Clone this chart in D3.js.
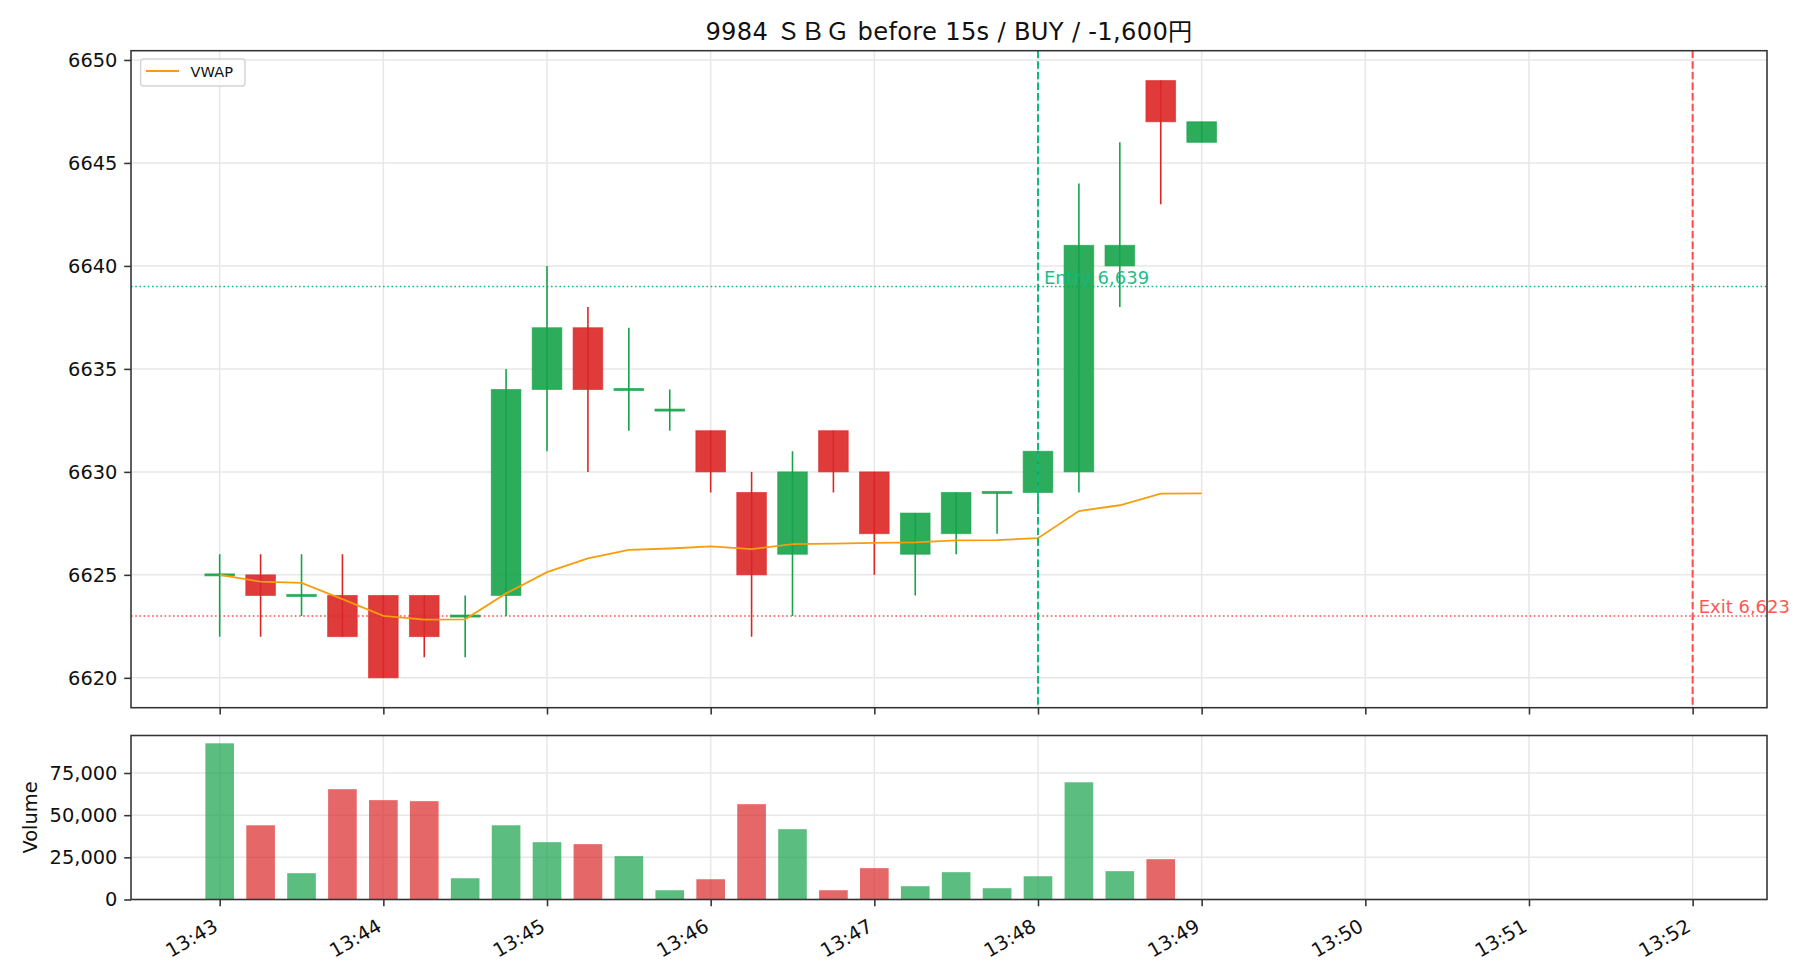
<!DOCTYPE html>
<html>
<head>
<meta charset="utf-8">
<script src="https://cdn.jsdelivr.net/npm/d3@7"></script>
<style>
  html, body { margin: 0; padding: 0; background: #fff; }
  svg { display: block; }
  text { font-family: "DejaVu Sans", "Noto Sans CJK JP", sans-serif; }
</style>
</head>
<body>
<svg id="chart" width="1820" height="980"></svg>
<script>
// ---------------- data ----------------
const title = "9984 ＳＢＧ before 15s / BUY / -1,600円";
const times = ["13:43:00","13:43:15","13:43:30","13:43:45","13:44:00","13:44:15","13:44:30","13:44:45",
               "13:45:00","13:45:15","13:45:30","13:45:45","13:46:00","13:46:15","13:46:30","13:46:45",
               "13:47:00","13:47:15","13:47:30","13:47:45","13:48:00","13:48:15","13:48:30","13:48:45","13:49:00"];
const opens  = [6625,6625,6624,6624,6624,6624,6623,6624,6634,6637,6634,6633,6632,6629,6626,6632,6630,6626,6627,6629,6629,6630,6640,6649,6646];
const highs  = [6626,6626,6626,6626,6624,6624,6624,6635,6640,6638,6637,6634,6632,6630,6631,6632,6630,6628,6629,6629,6631,6644,6646,6649,6647];
const lows   = [6622,6622,6623,6622,6620,6621,6621,6623,6631,6630,6632,6632,6629,6622,6623,6629,6625,6624,6626,6627,6628,6629,6638,6643,6646];
const closes = [6625,6624,6624,6622,6620,6622,6623,6634,6637,6634,6634,6633,6630,6625,6630,6630,6627,6628,6629,6629,6631,6641,6641,6647,6647];
const volumes = [92600,44000,15600,65400,58900,58300,12600,44000,34000,32800,25700,5500,12000,56500,41700,5500,
                 18600,7900,16200,6700,13800,69500,16800,23900,0];
const vwap = [6625.0,6624.67,6624.61,6623.82,6623.01,6622.83,6622.84,6624.1,6625.13,6625.8,6626.21,6626.28,6626.38,
              6626.25,6626.49,6626.52,6626.55,6626.58,6626.67,6626.69,6626.78,6628.1,6628.38,6628.94,6628.96];
const entryTime = "13:48:00", entryPrice = 6639, entryLabel = "Entry 6,639";
const exitTime  = "13:52:00", exitPrice  = 6623, exitLabel  = "Exit 6,623";
const priceTicks = [6620,6625,6630,6635,6640,6645,6650];
const volumeTicks = [0,25000,50000,75000];
const legendLabel = "VWAP";
const volumeLabel = "Volume";

// ---------------- setup ----------------
const parse = s => new Date("2024-01-01T" + s + "Z");
const T = times.map(parse);
const candles = T.map((t,i)=>({t, o:opens[i], h:highs[i], l:lows[i], c:closes[i], v:volumes[i], w:vwap[i]}));

const W = 1820, H = 980;
const L = 131, R = 1767;
const mainTop = 50.7, mainBot = 707.7;
const volTop = 735.5, volBot = 899.5;

const GREEN = "#16a34a", RED = "#dc2626", ORANGE = "#f59e0b";
const ENTRY = "#10b981", EXIT = "#ff4b4b";
const stepMs = 15000, barFrac = 0.7;

const svg = d3.select("#chart");
svg.append("rect").attr("width", W).attr("height", H).attr("fill", "#fff");

// x domain: data extent (incl. bar half-width and exit line) + 5% padding
const xLo = +T[0] - stepMs*barFrac/2, xHi = +parse(exitTime);
const padX = (xHi - xLo) * 0.05;
const x = d3.scaleUtc().domain([new Date(xLo - padX), new Date(xHi + padX)]).range([L, R]);

const pLo = d3.min(lows), pHi = d3.max(highs), padP = (pHi - pLo) * 0.05;
const y = d3.scaleLinear().domain([pLo - padP, pHi + padP]).range([mainBot, mainTop]);
const yv = d3.scaleLinear().domain([0, d3.max(volumes) * 1.05]).range([volBot, volTop]);

const minuteTicks = x.ticks(d3.utcMinute.every(1));
const bw = x(new Date(+T[0] + stepMs*barFrac)) - x(T[0]);
const cbw = bw + 1;

const GRID = "#e7e7e7", SPINE = "#333", TICKLEN = 6.8, TICKPAD = 6.8, FS = 19.4;

// ---------------- main panel ----------------
const gMain = svg.append("g");
gMain.append("g").selectAll("line").data(minuteTicks).join("line")
  .attr("x1", d=>x(d)).attr("x2", d=>x(d)).attr("y1", mainTop).attr("y2", mainBot)
  .attr("stroke", GRID).attr("stroke-width", 1.5);
gMain.append("g").selectAll("line").data(priceTicks).join("line")
  .attr("x1", L).attr("x2", R).attr("y1", d=>y(d)).attr("y2", d=>y(d))
  .attr("stroke", GRID).attr("stroke-width", 1.5);

const clipId = "clipMain";
svg.append("clipPath").attr("id", clipId).append("rect")
  .attr("x", L).attr("y", mainTop).attr("width", R-L).attr("height", mainBot-mainTop);
const plot = gMain.append("g").attr("clip-path", `url(#${clipId})`);

plot.append("line").attr("x1", L).attr("x2", R).attr("y1", y(entryPrice)).attr("y2", y(entryPrice))
  .attr("stroke", ENTRY).attr("stroke-width", 1.6).attr("stroke-dasharray", "1.6,2.6");
plot.append("line").attr("x1", L).attr("x2", R).attr("y1", y(exitPrice)).attr("y2", y(exitPrice))
  .attr("stroke", EXIT).attr("stroke-width", 1.6).attr("stroke-dasharray", "1.6,2.6");

// wicks
plot.append("g").selectAll("line").data(candles).join("line")
  .attr("x1", d=>x(d.t)).attr("x2", d=>x(d.t)).attr("y1", d=>y(d.h)).attr("y2", d=>y(d.l))
  .attr("stroke", d=> d.c >= d.o ? GREEN : RED).attr("stroke-width", 1.6);
// bodies
plot.append("g").selectAll("rect").data(candles).join("rect")
  .attr("x", d=>x(d.t) - cbw/2).attr("width", cbw)
  .attr("y", d=>y(Math.max(d.o, d.c) + (d.o===d.c ? 0.05 : 0)))
  .attr("height", d=> Math.max(y(Math.min(d.o,d.c)) - y(Math.max(d.o,d.c)), y(0) - y(0.1)))
  .attr("fill", d=> d.c >= d.o ? GREEN : RED).attr("fill-opacity", 0.9)
  .attr("stroke", d=> d.c >= d.o ? GREEN : RED).attr("stroke-opacity", 0.6).attr("stroke-width", 1);

plot.append("path").datum(candles)
  .attr("d", d3.line().x(d=>x(d.t)).y(d=>y(d.w)))
  .attr("fill", "none").attr("stroke", ORANGE).attr("stroke-width", 1.8);

plot.append("line").attr("x1", x(parse(entryTime))).attr("x2", x(parse(entryTime)))
  .attr("y1", mainTop).attr("y2", mainBot)
  .attr("stroke", ENTRY).attr("stroke-width", 2).attr("stroke-dasharray", "7.4,3.2");
plot.append("line").attr("x1", x(parse(exitTime))).attr("x2", x(parse(exitTime)))
  .attr("y1", mainTop).attr("y2", mainBot)
  .attr("stroke", EXIT).attr("stroke-width", 2).attr("stroke-dasharray", "7.4,3.2");

gMain.append("text").attr("x", x(parse(entryTime)) + 6).attr("y", y(entryPrice) - 3)
  .attr("font-size", 18).attr("fill", ENTRY).attr("fill-opacity", 0.95).text(entryLabel);
gMain.append("text").attr("x", x(parse(exitTime)) + 6).attr("y", y(exitPrice) - 3)
  .attr("font-size", 18).attr("fill", EXIT).attr("fill-opacity", 0.95).text(exitLabel);

const yAxis = d3.axisLeft(y).tickValues(priceTicks).tickFormat(d3.format("d")).tickSize(TICKLEN).tickPadding(TICKPAD);
const gy = gMain.append("g").attr("transform", `translate(${L},0)`).call(yAxis);
const xAxisMain = d3.axisBottom(x).tickValues(minuteTicks).tickFormat("").tickSize(TICKLEN);
const gxm = gMain.append("g").attr("transform", `translate(0,${mainBot})`).call(xAxisMain);
[gy, gxm].forEach(g => {
  g.select(".domain").remove();
  g.selectAll(".tick line").attr("stroke", SPINE).attr("stroke-width", 1.56);
  g.selectAll("text").attr("font-size", FS).attr("fill", "#111").attr("font-family", "DejaVu Sans");
});
gMain.append("rect").attr("x", L).attr("y", mainTop).attr("width", R-L).attr("height", mainBot-mainTop)
  .attr("fill", "none").attr("stroke", SPINE).attr("stroke-width", 1.56);

// legend
const lg = gMain.append("g");
lg.append("rect").attr("x", 140.6).attr("y", 59).attr("width", 104.4).attr("height", 27).attr("rx", 3)
  .attr("fill", "#fff").attr("fill-opacity", 0.8).attr("stroke", "#d4d4d4").attr("stroke-width", 1.4);
lg.append("line").attr("x1", 146).attr("x2", 179).attr("y1", 71).attr("y2", 71)
  .attr("stroke", ORANGE).attr("stroke-width", 1.8);
lg.append("text").attr("x", 190.6).attr("y", 76.7).attr("font-size", 14.6).attr("fill", "#111").text(legendLabel);

// title
svg.append("text").attr("x", (L+R)/2).attr("y", 39.5).attr("text-anchor", "middle")
  .attr("font-size", 24.2).attr("letter-spacing", 0.3).attr("fill", "#111").text(title);

// ---------------- volume panel ----------------
const gVol = svg.append("g");
gVol.append("g").selectAll("line").data(minuteTicks).join("line")
  .attr("x1", d=>x(d)).attr("x2", d=>x(d)).attr("y1", volTop).attr("y2", volBot)
  .attr("stroke", GRID).attr("stroke-width", 1.5);
gVol.append("g").selectAll("line").data(volumeTicks).join("line")
  .attr("x1", L).attr("x2", R).attr("y1", d=>yv(d)).attr("y2", d=>yv(d))
  .attr("stroke", GRID).attr("stroke-width", 1.5);
gVol.append("g").selectAll("rect").data(candles).join("rect")
  .attr("x", d=>x(d.t) - bw/2).attr("width", bw)
  .attr("y", d=>yv(d.v)).attr("height", d=>yv(0) - yv(d.v))
  .attr("fill", d=> d.c >= d.o ? GREEN : RED).attr("fill-opacity", 0.7);

const yvAxis = d3.axisLeft(yv).tickValues(volumeTicks).tickFormat(d3.format(",")).tickSize(TICKLEN).tickPadding(TICKPAD);
const gyv = gVol.append("g").attr("transform", `translate(${L},0)`).call(yvAxis);
const xAxis = d3.axisBottom(x).tickValues(minuteTicks).tickFormat(d3.utcFormat("%H:%M")).tickSize(TICKLEN).tickPadding(TICKPAD);
const gx = gVol.append("g").attr("transform", `translate(0,${volBot})`).call(xAxis);
[gyv, gx].forEach(g => {
  g.select(".domain").remove();
  g.selectAll(".tick line").attr("stroke", SPINE).attr("stroke-width", 1.56);
  g.selectAll("text").attr("font-size", FS).attr("fill", "#111").attr("font-family", "DejaVu Sans");
});
gx.selectAll(".tick text")
  .attr("text-anchor", "end").attr("dy", null).attr("y", null)
  .attr("transform", `translate(-1,${930 - volBot}) rotate(-30)`);
gVol.append("rect").attr("x", L).attr("y", volTop).attr("width", R-L).attr("height", volBot-volTop)
  .attr("fill", "none").attr("stroke", SPINE).attr("stroke-width", 1.56);

gVol.append("text").attr("transform", `translate(36.5,${(volTop+volBot)/2}) rotate(-90)`)
  .attr("text-anchor", "middle").attr("font-size", FS).attr("fill", "#111").text(volumeLabel);
</script>
</body>
</html>
